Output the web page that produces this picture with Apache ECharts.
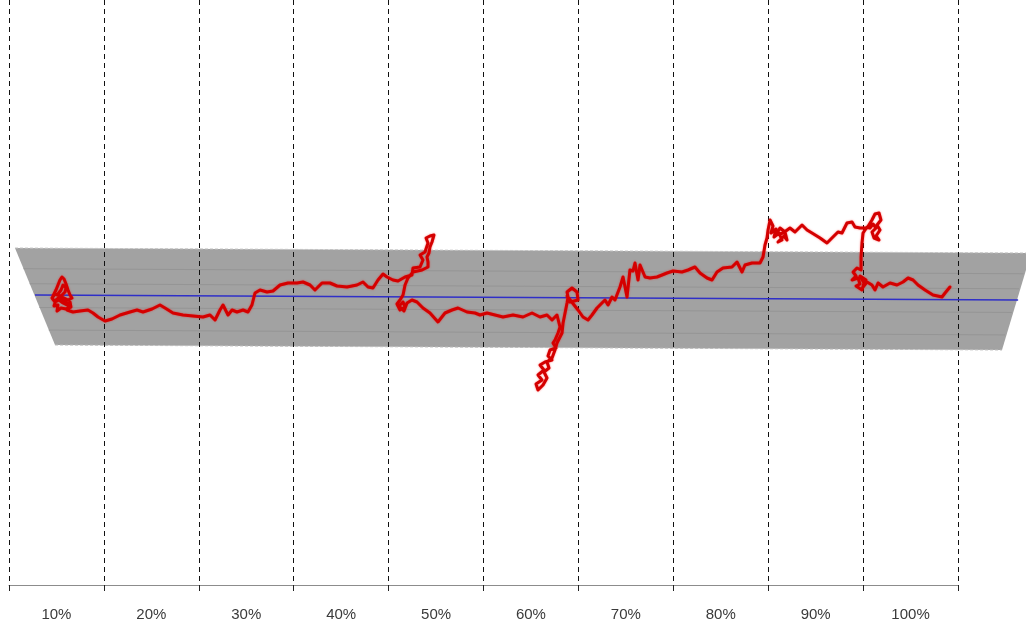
<!DOCTYPE html>
<html>
<head>
<meta charset="utf-8">
<script src="https://cdn.jsdelivr.net/npm/echarts@6/dist/echarts.min.js"></script>
<style>
  html, body { margin: 0; padding: 0; background: #ffffff; }
  #chart { width: 1026px; height: 626px; }
</style>
</head>
<body>
<div id="chart"></div>
<script>
// Percentile bands along the bottom axis
const bandLabels = ['10%', '20%', '30%', '40%', '50%', '60%', '70%', '80%', '90%', '100%'];

// Trend line (x in %, y in value units)
const trendX = [2.74, 106.33];
const trendY = [-1.0, -3.0];

// Corridor around the trend (outline, clockwise)
const corridorX = [0.63, 107.16, 107.16, 104.63, 4.85];
const corridorY = [17.8, 15.8, 9.0, -23.0, -21.0];

// Faint guide lines inside the corridor, as offsets from the trend
const guideOffsets = [10.5, 4.5, -5.0, -14.0];

// Observed path, [x %, value] in drawing order
const pathPoints = [
  [4.64, -1.4], [4.95, 1.0], [5.16, 3.0], [5.37, 5.0], [5.58, 6.2], [5.80, 5.4], [6.01, 3.4], [6.22, 1.0],
  [6.43, -1.0], [6.64, -2.2], [6.22, -3.0], [5.80, -2.2], [5.37, -1.4], [4.85, -0.6], [4.53, -2.2], [4.85, -3.8],
  [5.27, -3.0], [5.69, -4.2], [6.11, -5.0], [6.43, -3.8], [6.53, -5.8], [6.01, -6.6], [5.48, -6.2], [5.06, -7.4],
  [5.16, -5.0], [4.74, -5.4], [4.95, -3.0], [5.48, -1.4], [5.90, 0.2], [6.01, 1.8], [5.69, 3.0], [5.48, 1.0],
  [5.16, -0.6], [5.58, -3.0], [6.01, -3.8], [6.32, -5.4], [6.11, -7.0],
  [6.74, -7.8], [7.48, -7.4], [8.32, -7.0], [8.85, -8.2], [9.38, -9.8], [10.12, -11.4], [10.85, -10.6],
  [11.70, -9.0], [12.75, -7.8], [13.49, -7.0], [14.12, -7.8], [15.07, -6.6], [15.91, -5.0], [16.44, -6.2],
  [17.28, -8.2], [18.33, -9.0], [19.39, -9.4], [20.44, -9.8], [21.18, -9.0], [21.71, -11.0], [22.23, -7.0],
  [22.55, -5.0], [23.08, -9.0], [23.50, -7.0], [24.02, -7.8], [24.66, -7.0], [25.18, -7.8], [25.60, -5.0],
  [25.92, -0.2], [26.45, 1.0], [27.19, 0.2], [27.82, 0.6], [28.56, 3.0], [29.40, 3.8], [30.35, 3.8],
  [30.98, 4.2], [31.72, 3.0], [32.24, 1.0], [32.98, 3.8], [33.82, 3.8], [34.56, 2.6], [35.62, 2.2],
  [36.67, 3.0], [37.30, 4.2], [37.83, 2.2], [38.35, 1.8], [38.88, 5.0], [39.41, 7.4], [39.83, 6.2],
  [40.46, 5.0], [40.99, 4.6], [41.73, 6.2], [42.46, 7.0],
  [42.57, 9.8], [43.31, 10.2], [43.62, 13.0], [43.31, 15.0], [43.83, 16.2], [44.15, 19.8], [43.94, 21.8],
  [44.36, 22.6], [44.78, 23.0], [44.57, 20.2], [44.36, 18.2], [44.25, 15.8], [44.04, 14.2], [44.15, 12.2],
  [44.15, 10.2], [43.52, 9.0], [42.57, 8.2], [42.04, 5.8], [41.73, 3.0], [41.52, -1.0], [41.20, -3.0],
  [40.88, -4.6], [41.20, -7.0], [41.73, -5.8], [41.52, -3.8], [41.10, -5.4], [41.62, -7.4], [41.94, -4.2],
  [42.46, -3.0], [42.99, -3.8], [43.62, -6.2], [44.36, -8.2], [45.20, -11.8], [45.94, -8.2],
  [46.68, -7.0], [47.31, -6.2], [48.26, -7.8], [49.10, -8.2], [49.63, -9.0], [50.37, -8.2], [51.21, -9.0],
  [52.05, -9.8], [53.11, -9.0], [54.16, -9.8], [55.11, -8.2], [55.95, -9.8], [56.69, -9.0], [57.22, -11.0],
  [57.74, -9.0], [58.06, -13.8],
  [57.85, -16.2], [57.53, -19.0], [57.32, -20.2], [57.64, -22.2], [57.01, -23.0], [56.79, -25.4], [57.22, -27.0],
  [56.48, -27.8], [55.95, -29.0], [56.37, -31.0], [55.74, -33.0], [56.16, -35.0], [55.53, -36.6], [55.74, -39.0],
  [56.27, -37.0], [56.69, -34.2], [56.37, -31.8], [56.90, -30.2], [56.69, -27.8], [57.22, -26.2], [57.53, -23.0],
  [57.74, -20.2], [58.27, -16.2], [58.38, -12.2], [58.59, -8.2], [58.80, -4.2], [58.90, -1.8], [58.80, 0.2],
  [59.32, 1.8], [59.85, 0.2], [59.96, -3.0], [59.11, -3.8], [58.80, -1.4], [59.96, -7.0], [60.48, -9.8],
  [61.01, -11.0], [61.43, -9.0], [61.96, -6.2], [62.48, -4.2], [62.80, -3.0], [63.12, -5.0], [63.54, -1.8],
  [63.85, -3.0], [64.38, 2.2], [64.70, 6.2], [65.12, -1.8], [65.43, 9.0], [65.75, 8.6], [65.96, 11.8],
  [66.28, 5.0], [66.49, 11.0], [67.02, 6.2], [67.54, 5.8], [68.28, 6.2], [68.81, 7.0], [69.33, 7.8],
  [69.97, 8.6], [70.91, 8.2], [71.55, 9.0], [72.28, 10.2], [72.81, 7.8], [73.55, 5.8], [74.08, 5.0],
  [74.60, 8.2], [75.23, 9.8], [76.18, 10.2], [76.71, 12.2], [77.24, 8.2], [77.55, 11.0], [78.29, 11.8],
  [79.13, 11.8], [79.45, 14.2], [79.66, 19.0], [79.87, 21.8], [79.98, 25.0], [80.19, 29.0],
  [80.50, 26.6], [80.29, 23.8], [80.82, 25.4], [80.61, 22.2], [81.13, 23.8], [81.45, 21.0], [81.03, 20.2],
  [81.66, 22.6], [81.98, 21.0], [81.77, 24.2], [81.24, 25.8], [80.82, 23.0], [81.56, 23.8], [82.29, 25.8],
  [82.82, 24.2], [83.56, 27.0], [84.09, 25.0], [84.61, 23.8], [85.46, 21.8], [86.19, 19.8], [86.82, 22.2],
  [87.35, 24.2], [87.77, 23.8], [88.30, 27.8], [88.83, 28.2], [89.14, 26.2], [89.67, 25.8], [90.41, 25.8],
  [90.93, 29.0], [91.25, 31.4], [91.67, 31.8], [91.88, 29.0], [91.46, 27.0], [91.78, 25.0], [91.36, 22.6],
  [91.67, 21.0], [91.15, 21.8], [90.93, 24.2], [91.36, 25.8], [91.04, 27.4], [90.72, 25.8], [90.41, 26.2],
  [89.99, 23.8], [89.88, 19.8], [89.78, 14.2], [89.78, 9.0],
  [89.35, 9.8], [88.94, 8.2], [89.25, 6.6], [88.83, 5.0], [89.46, 5.8], [89.67, 3.4], [89.25, 2.6],
  [89.88, 1.0], [90.09, 3.8], [89.67, 6.6], [90.30, 5.0], [89.99, 2.2], [90.41, 4.2],
  [90.93, 3.0], [91.25, 1.0], [91.57, 3.8], [92.09, 2.2], [92.83, 3.8], [93.57, 3.0], [94.20, 4.2],
  [94.73, 5.8], [95.26, 5.0], [95.78, 3.0], [96.52, 1.0], [97.36, -1.0], [98.31, -1.8], [98.63, -0.2],
  [99.15, 2.2]
];

const trendAt = x => trendY[0] + (trendY[1] - trendY[0]) * (x - trendX[0]) / (trendX[1] - trendX[0]);

// x where a horizontal-ish guide at value y meets the left / right slanted edge of the corridor
const leftEdgeX = y => corridorX[0] + (corridorX[4] - corridorX[0]) * (corridorY[0] - y) / (corridorY[0] - corridorY[4]);
const rightEdgeX = y => y >= corridorY[2]
  ? corridorX[2]
  : corridorX[3] + (corridorX[2] - corridorX[3]) * (y - corridorY[3]) / (corridorY[2] - corridorY[3]);

const chart = echarts.init(document.getElementById('chart'), null, { renderer: 'canvas' });

chart.setOption({
  backgroundColor: '#ffffff',
  animation: false,
  grid: [
    { left: 9, right: 0, top: 0, bottom: 41 },
    { left: 9, width: 949, top: 0, bottom: 41 }
  ],
  xAxis: [
    { type: 'value', gridIndex: 0, min: 0, max: 107.16, show: false },
    {
      type: 'category', gridIndex: 1, data: bandLabels, boundaryGap: true, z: 3,
      axisLine: { show: true, lineStyle: { color: '#8c8c8c', width: 1 } },
      axisTick: { show: true, length: 6, lineStyle: { color: '#222', width: 1 } },
      splitLine: { show: true, lineStyle: { color: '#111', width: 1, type: [5, 4] } },
      axisLabel: { color: '#3a3a3a', fontFamily: 'Liberation Sans', fontSize: 15, margin: 22 }
    }
  ],
  yAxis: [
    { type: 'value', gridIndex: 0, min: -117, max: 117, show: false },
    { type: 'value', gridIndex: 1, show: false }
  ],
  series: [
    {
      // shaded corridor with its faint inner guide lines
      type: 'custom',
      xAxisIndex: 0, yAxisIndex: 0, z: 1, silent: true,
      data: [[0, 0]],
      renderItem: (params, api) => {
        const outline = corridorX.map((x, i) => api.coord([x, corridorY[i]]));
        const children = [{
          type: 'polygon',
          shape: { points: outline },
          style: { fill: '#a2a2a2', stroke: null }
        }];
        guideOffsets.forEach(off => {
          const x0 = leftEdgeX(trendAt(corridorX[0]) + off);
          const x1 = rightEdgeX(trendAt(corridorX[2]) + off) - 0.15;
          const p0 = api.coord([x0, trendAt(x0) + off]);
          const p1 = api.coord([x1, trendAt(x1) + off]);
          children.push({
            type: 'line',
            shape: { x1: p0[0], y1: p0[1], x2: p1[0], y2: p1[1] },
            style: { stroke: '#959595', lineWidth: 1 }
          });
        });
        children.push({
          type: 'polyline',
          shape: { points: [outline[0], outline[1]] },
          style: { stroke: '#c4c4c4', lineWidth: 1, lineDash: [3, 2], fill: null }
        });
        children.push({
          type: 'polyline',
          shape: { points: [outline[4], outline[3]] },
          style: { stroke: '#bdbdbd', lineWidth: 1, lineDash: [3, 2], fill: null }
        });
        return { type: 'group', children };
      }
    },
    {
      type: 'line',
      xAxisIndex: 0, yAxisIndex: 0, z: 4,
      data: trendX.map((x, i) => [x, trendY[i]]),
      symbol: 'none',
      lineStyle: { color: '#2f2fc8', width: 1.5 },
      silent: true
    },
    {
      type: 'line',
      xAxisIndex: 0, yAxisIndex: 0, z: 5,
      data: pathPoints,
      symbol: 'none',
      lineStyle: {
        color: '#d40000', width: 3, join: 'round', cap: 'round',
        shadowColor: 'rgba(255, 0, 0, 0.55)', shadowBlur: 2
      },
      silent: true
    }
  ]
});
</script>
</body>
</html>
